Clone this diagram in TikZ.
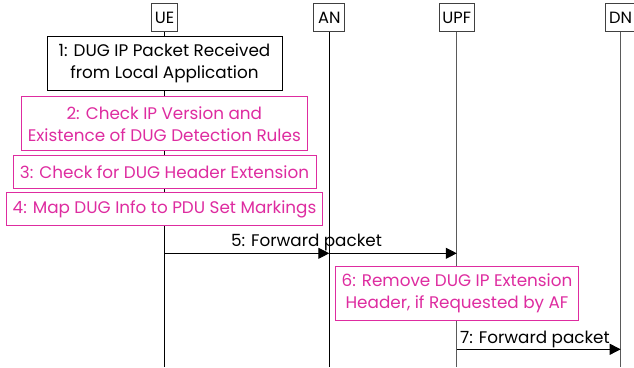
\documentclass[tikz,border=0pt]{standalone}
\usepackage{fontspec}
\setmainfont{Poppins}
\usetikzlibrary{arrows.meta}
\definecolor{mag}{RGB}{222,44,160}
\definecolor{lifegray}{RGB}{90,90,90}
\tikzset{
  head/.style={draw=black!75, fill=white, line width=1pt, inner sep=2pt, minimum height=28pt, font=\fontsize{16.3}{18}\selectfont},
  blackbox/.style={draw=black, fill=white, line width=1pt, align=center, inner sep=0pt, font=\fontsize{16.8}{22}\selectfont},
  magbox/.style={draw=mag, fill=white, line width=1pt, align=center, inner sep=0pt, text=mag, font=\fontsize{16.8}{22}\selectfont},
  msg/.style={line width=1pt, -{Triangle[length=11pt,width=11pt]}},
  lbl/.style={font=\fontsize{16.8}{18}\selectfont, inner sep=0pt},
  life/.style={line width=1.1pt}
}
\begin{document}
\begin{tikzpicture}[x=1pt,y=-1pt]
\useasboundingbox (0,0) rectangle (634,367);
% headers
\node[head, minimum width=26pt] (ue) at (164.5,17.5) {UE};
\node[head, minimum width=31pt] (an) at (329.3,17.5) {AN};
\node[head, minimum width=35pt] (upf) at (456.8,17.5) {UPF};
\node[head, minimum width=31pt] (dn) at (620.7,17.5) {DN};
% lifeline ends
\coordinate (ueEnd) at (164.5,367);
\coordinate (anEnd) at (329.3,367);
\coordinate (upfEnd) at (456.8,367);
\coordinate (dnEnd) at (620.7,367);
\draw[life] (ue.south) -- (ueEnd);
\draw[life] (an.south) -- (anEnd);
\draw[life, draw=lifegray] (upf.south) -- (upfEnd);
\draw[life, draw=lifegray] (dn.south) -- (dnEnd);
% boxes
\node[blackbox, minimum width=235pt, minimum height=54pt] (b1) at (164.5,63.7) {1: DUG IP Packet Received\\from Local Application};
\node[magbox, minimum width=286pt, minimum height=54pt] (b2) at (164.3,123.7) {2: Check IP Version and\\Existence of DUG Detection Rules};
\node[magbox, minimum width=303pt, minimum height=32.6pt] (b3) at (164.5,172) {3: Check for DUG Header Extension};
\node[magbox, minimum width=316.4pt, minimum height=32.7pt] (b4) at (164.5,209.3) {4: Map DUG Info to PDU Set Markings};
% message 5
\coordinate (ue5) at (164.5,253.3);
\coordinate (an5) at (329.3,253.3);
\coordinate (upf5) at (456.8,253.3);
\draw[msg] (ue5) -- (an5);
\draw[msg] (an5) -- (upf5);
\node[lbl, anchor=base] (l5) at (306.5,246.5) {5: Forward packet};
% box 6
\node[magbox, minimum width=242.6pt, minimum height=54pt] (b6) at (457,293.7) {6: Remove DUG IP Extension\\Header, if Requested by AF};
% message 7
\coordinate (upf7) at (456.8,349.3);
\coordinate (dn7) at (620.7,349.3);
\draw[msg] (upf7) -- (dn7);
\node[lbl, anchor=base west] (l7) at (460,343) {7: Forward packet};
\end{tikzpicture}
\end{document}
